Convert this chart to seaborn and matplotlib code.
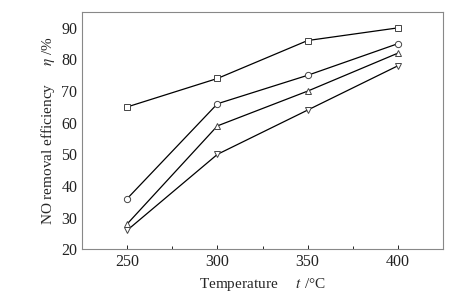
import matplotlib
matplotlib.use("Agg")
import matplotlib.pyplot as plt
import seaborn as sns
import pandas as pd

temperature = [250, 300, 350, 400]
series_square = [65, 74, 86, 90]
series_circle = [36, 66, 75, 85]
series_up = [28, 59, 70, 82]
series_down = [26, 50, 64, 78]

sns.set_style("ticks")
plt.rcParams['font.family'] = ['Liberation Serif', 'DejaVu Serif']
plt.rcParams['mathtext.fontset'] = 'stix'

fig, ax = plt.subplots(figsize=(4.59, 3.02), dpi=100)
fig.subplots_adjust(left=0.179, right=0.965, top=0.96, bottom=0.175)

for vals, mk in [(series_square, 's'), (series_circle, 'o'), (series_up, '^'), (series_down, 'v')]:
    df = pd.DataFrame({'t': temperature, 'eta': vals})
    sns.lineplot(data=df, x='t', y='eta', ax=ax, color='black', linewidth=0.9,
                 marker=mk, markersize=4.5, markerfacecolor='white',
                 markeredgecolor='#444444', markeredgewidth=0.7)

ax.set_xlim(225, 425)
ax.set_ylim(20, 95)
ax.set_xticks([250, 300, 350, 400])
ax.set_xticks([275, 325, 375], minor=True)
ax.set_yticks([20, 30, 40, 50, 60, 70, 80, 90])
ax.tick_params(axis='both', direction='in', labelsize=11.5, colors='#222222', length=3, width=0.7)
ax.tick_params(axis='y', length=0)
ax.tick_params(axis='x', which='minor', direction='in', length=2, width=0.7)
for s in ax.spines.values():
    s.set_color('#888888')
    s.set_linewidth(0.8)
ax.set_xlabel('Temperature     $t$ /°C', fontsize=11, labelpad=4)
ax.set_ylabel('NO removal efficiency     $\\eta$ /%', fontsize=11, labelpad=3)
ax.grid(False)
fig.savefig('out.png', dpi=100)
